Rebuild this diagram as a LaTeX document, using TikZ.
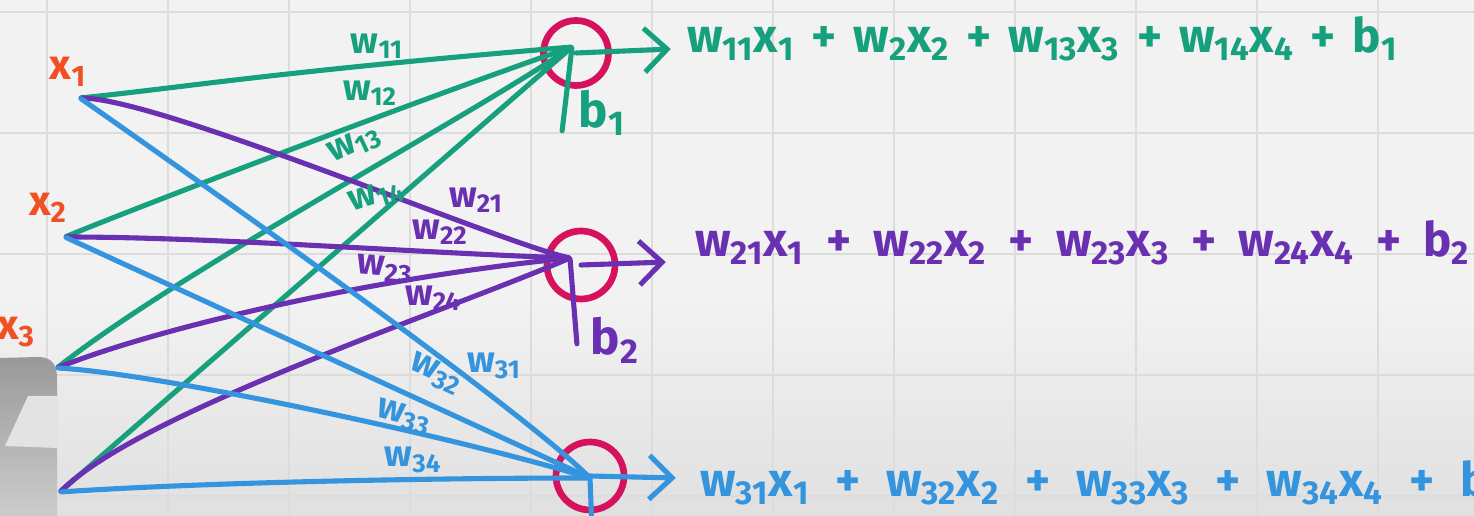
\documentclass[tikz,border=0pt]{standalone}
\usepackage{fontspec}
\setmainfont{Fira Sans}
\usetikzlibrary{arrows.meta}

\definecolor{wgreen}{RGB}{23,160,125}
\definecolor{wpurple}{RGB}{106,48,178}
\definecolor{wblue}{RGB}{52,148,222}
\definecolor{ringpink}{RGB}{214,18,94}
\definecolor{inred}{RGB}{240,80,35}
\definecolor{boardbg}{RGB}{242,242,242}
\definecolor{boarddark}{RGB}{224,224,224}
\definecolor{gridgray}{RGB}{220,220,220}

\newcommand{\wt}[1]{w\textsubscript{#1}}
\newcommand{\xt}[1]{x\textsubscript{#1}}
\newcommand{\pl}[1][0.12em]{\hspace{#1} + \hspace{#1}}

\tikzstyle{hub} = [circle, minimum width=0.5pt, inner sep=0pt]
\tikzstyle{neuron} = [circle, draw=ringpink, line width=3.8pt, minimum size=1.3cm, inner sep=0pt]
\tikzstyle{wire} = [line width=2.9pt, line cap=round]
\tikzstyle{outarrow} = [wire, -{Straight Barb[length=13pt, width=25pt]}]
\tikzstyle{wlabel} = [font=\fontsize{21}{24}\selectfont\bfseries, inner sep=0pt]
\tikzstyle{sum} = [font=\fontsize{27}{30}\selectfont\bfseries, anchor=base west, inner sep=0pt]
\tikzstyle{inlabel} = [text=inred, font=\fontsize{24}{26}\selectfont\bfseries, inner sep=0pt]
\tikzstyle{biaslabel} = [font=\fontsize{28}{32}\selectfont\bfseries, inner sep=0pt]

\begin{document}
\begin{tikzpicture}[x=0.02cm, y=-0.02cm]
\useasboundingbox (0,0) rectangle (1474,516);
% board
\fill[boardbg] (0,0) rectangle (1474,516);
\shade[top color=boardbg, bottom color=boarddark] (0,300) rectangle (1474,516);
\foreach \gx in {47,168,...,1378}
  \draw[gridgray, line width=0.6pt] (\gx,0) -- (\gx,516);
\foreach \gy in {12,133,254,375,496}
  \draw[gridgray, line width=0.6pt] (0,\gy) -- (1474,\gy);
% grey object at the lower left
\shade[top color=black!40, bottom color=black!20] (0,358) -- (38,357) .. controls (52,357) and (57,365) .. (57,378)
  -- (57,516) -- (0,516) -- cycle;
\fill[black!11] (28,396) -- (57,396) -- (57,448) -- (5,446) -- cycle;

% neurons
\node[neuron] (n1) at (576,53) {};
\node[neuron, minimum size=1.36cm] (n2) at (581,265) {};
\node[neuron, minimum size=1.36cm] (n3) at (590,476) {};

% inputs, hubs and free ends
\node[hub] (x1) at (80,98) {};
\node[hub] (x2) at (65,237) {};
\node[hub] (x3) at (57,368) {};
\node[hub] (x4) at (60,492) {};
\node[hub] (h1) at (572,47) {};
\node[hub] (h2) at (570,258) {};
\node[hub] (h3) at (590,478) {};
\node[hub] (bf1) at (562,132) {};
\node[hub] (bf2) at (577,345) {};
\node[hub] (bf3) at (592,530) {};
\node[hub] (o1) at (672,49) {};
\node[hub] (o2) at (667,262) {};
\node[hub] (o3) at (677,478) {};

\node[inlabel] (lx1) at (68,72) {\xt{1}};
\node[inlabel] (lx2) at (48,208) {\xt{2}};
\node[inlabel] (lx3) at (16,332) {\xt{3}};

% first neuron
\draw[wire, wgreen] (x1) .. controls +(100,-10) and +(-300,25) .. (h1);
\draw[wire, wgreen] (x2) .. controls +(60,-25) and +(-160,55) .. (h1);
\draw[wire, wgreen] (x3) .. controls +(120,-95) and +(-120,80) .. (h1);
\draw[wire, wgreen] (x4) -- (h1);
\draw[wire, wgreen] (bf1) -- (h1);
\draw[outarrow, wgreen] (n1.center) -- (o1);

% second neuron
\draw[wire, wpurple] (x1) .. controls +(80,0) and +(-70,-15) .. (h2);
\draw[wire, wpurple] (x2) .. controls +(150,0) and +(-150,-5) .. (h2);
\draw[wire, wpurple] (x3) .. controls +(100,-40) and +(-200,20) .. (h2);
\draw[wire, wpurple] (x4) .. controls +(80,-80) and +(-120,52) .. (h2);
\draw[wire, wpurple] (bf2) -- (h2);
\draw[outarrow, wpurple] (n2.center) -- (o2);

% third neuron
\draw[wire, wblue] (x1) .. controls +(200,140) and +(-60,-60) .. (h3);
\draw[wire, wblue] (x2) -- (h3);
\draw[wire, wblue] (x3) .. controls +(100,5) and +(-130,-40) .. (h3);
\draw[wire, wblue] (x4) .. controls +(150,-10) and +(-150,0) .. (h3);
\draw[wire, wblue] (bf3) -- (h3);
\draw[outarrow, wblue] (n3.center) -- (o3);

% weights
\node[wlabel, wgreen] (w11) at (377,46) {\wt{11}};
\node[wlabel, wgreen] (w12) at (370,93) {\wt{12}};
\node[wlabel, wgreen, rotate=25] (w13) at (355,145) {\wt{13}};
\node[wlabel, wgreen, rotate=18] (w14) at (377,196) {\wt{14}};
\node[wlabel, wpurple] (w21) at (476,200) {\wt{21}};
\node[wlabel, wpurple] (w22) at (440,232) {\wt{22}};
\node[wlabel, wpurple, rotate=-5] (w23) at (385,269) {\wt{23}};
\node[wlabel, wpurple] (w24) at (433,298) {\wt{24}};
\node[wlabel, wblue] (w31) at (494,366) {\wt{31}};
\node[wlabel, wblue, rotate=-25] (w32) at (436,374) {\wt{32}};
\node[wlabel, wblue, rotate=-15] (w33) at (404,417) {\wt{33}};
\node[wlabel, wblue] (w34) at (413,460) {\wt{34}};

% biases
\node[biaslabel, wgreen] (b1) at (602,113) {b\textsubscript{1}};
\node[biaslabel, wpurple] (b2) at (615,340) {b\textsubscript{2}};

% sums
\node[sum, wgreen] (s1) at (687,53) {\wt{11}\xt{1}\pl\wt{2}\xt{2}\pl\wt{13}\xt{3}\pl\wt{14}\xt{4}\pl b\textsubscript{1}};
\node[sum, wpurple] (s2) at (695,257) {\wt{21}\xt{1}\pl[0.23em]\wt{22}\xt{2}\pl[0.23em]\wt{23}\xt{3}\pl[0.23em]\wt{24}\xt{4}\pl[0.23em]b\textsubscript{2}};
\node[sum, wblue] (s3) at (700,497) {\wt{31}\xt{1}\pl[0.31em]\wt{32}\xt{2}\pl[0.31em]\wt{33}\xt{3}\pl[0.31em]\wt{34}\xt{4}\pl[0.31em]b\textsubscript{3}};
\end{tikzpicture}
\end{document}
